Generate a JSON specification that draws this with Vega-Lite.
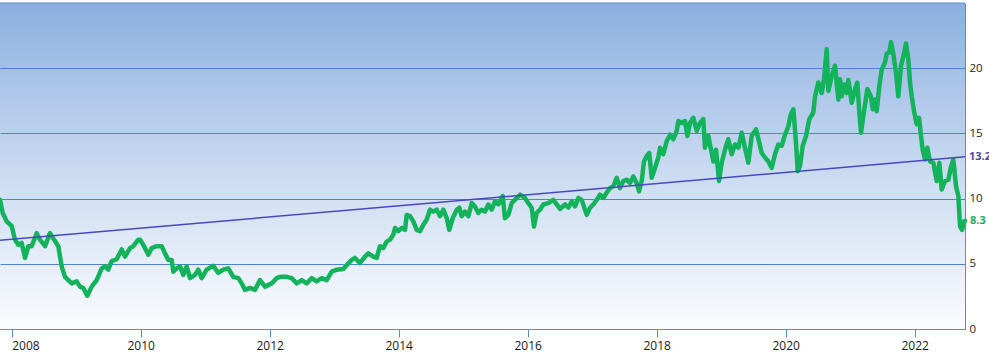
{
  "$schema": "https://vega.github.io/schema/vega-lite/v6.json",
  "width": 965,
  "height": 326,
  "autosize": {"type": "none"},
  "padding": {"left": 0, "top": 3, "right": 24, "bottom": 29},
  "background": "#ffffff",
  "config": {
    "view": {
      "fill": {"gradient": "linear", "x1": 0, "y1": 0, "x2": 0, "y2": 1,
        "stops": [{"offset": 0, "color": "#8cafe0"}, {"offset": 0.5, "color": "#c8d9f0"}, {"offset": 1, "color": "#fbfcfe"}]},
      "stroke": null
    },
    "font": "Open Sans"
  },
  "datasets": {
    "price": [
      {"year": 2007.819, "price": 9.9}, {"year": 2007.861, "price": 8.9}, {"year": 2007.923, "price": 8.25}, {"year": 2008.0, "price": 7.9},
      {"year": 2008.052, "price": 6.85}, {"year": 2008.103, "price": 6.45}, {"year": 2008.155, "price": 6.6}, {"year": 2008.207, "price": 5.45},
      {"year": 2008.258, "price": 6.35}, {"year": 2008.31, "price": 6.35}, {"year": 2008.388, "price": 7.35}, {"year": 2008.439, "price": 6.85},
      {"year": 2008.517, "price": 6.35}, {"year": 2008.594, "price": 7.35}, {"year": 2008.645, "price": 6.95}, {"year": 2008.723, "price": 6.35},
      {"year": 2008.775, "price": 4.8}, {"year": 2008.827, "price": 4.0}, {"year": 2008.878, "price": 3.75}, {"year": 2008.931, "price": 3.5},
      {"year": 2009.008, "price": 3.65}, {"year": 2009.059, "price": 3.25}, {"year": 2009.11, "price": 3.15}, {"year": 2009.172, "price": 2.55},
      {"year": 2009.241, "price": 3.25}, {"year": 2009.318, "price": 3.75}, {"year": 2009.396, "price": 4.65}, {"year": 2009.447, "price": 4.8},
      {"year": 2009.498, "price": 4.55}, {"year": 2009.551, "price": 5.2}, {"year": 2009.628, "price": 5.35}, {"year": 2009.706, "price": 6.1},
      {"year": 2009.757, "price": 5.55}, {"year": 2009.834, "price": 6.2}, {"year": 2009.886, "price": 6.35}, {"year": 2009.963, "price": 6.85},
      {"year": 2009.99, "price": 6.85}, {"year": 2010.041, "price": 6.45}, {"year": 2010.118, "price": 5.7}, {"year": 2010.171, "price": 6.2},
      {"year": 2010.248, "price": 6.35}, {"year": 2010.326, "price": 6.35}, {"year": 2010.377, "price": 5.8}, {"year": 2010.428, "price": 5.3},
      {"year": 2010.481, "price": 5.3}, {"year": 2010.506, "price": 4.4}, {"year": 2010.558, "price": 4.65}, {"year": 2010.61, "price": 4.8},
      {"year": 2010.661, "price": 4.15}, {"year": 2010.713, "price": 4.8}, {"year": 2010.765, "price": 3.9}, {"year": 2010.842, "price": 4.15},
      {"year": 2010.893, "price": 4.55}, {"year": 2010.946, "price": 3.9}, {"year": 2011.023, "price": 4.55}, {"year": 2011.126, "price": 4.85},
      {"year": 2011.203, "price": 4.3}, {"year": 2011.281, "price": 4.55}, {"year": 2011.358, "price": 4.65}, {"year": 2011.436, "price": 4.0},
      {"year": 2011.514, "price": 3.9}, {"year": 2011.566, "price": 3.5}, {"year": 2011.617, "price": 3.0}, {"year": 2011.695, "price": 3.15},
      {"year": 2011.772, "price": 3.0}, {"year": 2011.85, "price": 3.75}, {"year": 2011.927, "price": 3.25}, {"year": 2012.031, "price": 3.5},
      {"year": 2012.109, "price": 3.9}, {"year": 2012.16, "price": 4.0}, {"year": 2012.264, "price": 4.0}, {"year": 2012.342, "price": 3.9},
      {"year": 2012.419, "price": 3.5}, {"year": 2012.497, "price": 3.75}, {"year": 2012.574, "price": 3.5}, {"year": 2012.652, "price": 3.9},
      {"year": 2012.729, "price": 3.65}, {"year": 2012.807, "price": 3.9}, {"year": 2012.884, "price": 3.75}, {"year": 2012.962, "price": 4.4},
      {"year": 2013.039, "price": 4.55}, {"year": 2013.142, "price": 4.6}, {"year": 2013.194, "price": 4.9}, {"year": 2013.272, "price": 5.3},
      {"year": 2013.323, "price": 5.45}, {"year": 2013.4, "price": 5.05}, {"year": 2013.478, "price": 5.55}, {"year": 2013.529, "price": 5.8},
      {"year": 2013.607, "price": 5.55}, {"year": 2013.659, "price": 5.45}, {"year": 2013.71, "price": 6.35}, {"year": 2013.761, "price": 6.2},
      {"year": 2013.814, "price": 6.7}, {"year": 2013.865, "price": 6.85}, {"year": 2013.917, "price": 7.25}, {"year": 2013.943, "price": 7.75},
      {"year": 2013.994, "price": 7.5}, {"year": 2014.047, "price": 7.75}, {"year": 2014.098, "price": 7.6}, {"year": 2014.124, "price": 8.75},
      {"year": 2014.176, "price": 8.65}, {"year": 2014.227, "price": 8.25}, {"year": 2014.279, "price": 7.6}, {"year": 2014.331, "price": 7.5},
      {"year": 2014.382, "price": 8.0}, {"year": 2014.435, "price": 8.4}, {"year": 2014.486, "price": 9.15}, {"year": 2014.537, "price": 9.0},
      {"year": 2014.59, "price": 9.15}, {"year": 2014.641, "price": 8.65}, {"year": 2014.692, "price": 9.15}, {"year": 2014.745, "price": 8.5},
      {"year": 2014.785, "price": 7.6}, {"year": 2014.838, "price": 8.5}, {"year": 2014.9, "price": 9.15}, {"year": 2014.94, "price": 9.3},
      {"year": 2014.977, "price": 8.65}, {"year": 2015.028, "price": 9.0}, {"year": 2015.08, "price": 8.65}, {"year": 2015.132, "price": 9.65},
      {"year": 2015.183, "price": 9.4}, {"year": 2015.234, "price": 8.9}, {"year": 2015.287, "price": 9.15}, {"year": 2015.338, "price": 9.0},
      {"year": 2015.39, "price": 9.55}, {"year": 2015.442, "price": 9.15}, {"year": 2015.493, "price": 9.8}, {"year": 2015.545, "price": 9.55},
      {"year": 2015.613, "price": 10.2}, {"year": 2015.648, "price": 8.5}, {"year": 2015.7, "price": 8.75}, {"year": 2015.752, "price": 9.65},
      {"year": 2015.803, "price": 9.9}, {"year": 2015.881, "price": 10.3}, {"year": 2015.958, "price": 10.05}, {"year": 2016.01, "price": 9.65},
      {"year": 2016.062, "price": 9.3}, {"year": 2016.098, "price": 7.85}, {"year": 2016.14, "price": 8.9}, {"year": 2016.191, "price": 9.15},
      {"year": 2016.242, "price": 9.55}, {"year": 2016.32, "price": 9.65}, {"year": 2016.397, "price": 9.9}, {"year": 2016.45, "price": 9.55},
      {"year": 2016.501, "price": 9.2}, {"year": 2016.579, "price": 9.55}, {"year": 2016.63, "price": 9.3}, {"year": 2016.683, "price": 9.8},
      {"year": 2016.734, "price": 9.4}, {"year": 2016.785, "price": 10.05}, {"year": 2016.838, "price": 9.9}, {"year": 2016.915, "price": 8.75},
      {"year": 2016.967, "price": 9.3}, {"year": 2017.018, "price": 9.55}, {"year": 2017.07, "price": 9.9}, {"year": 2017.121, "price": 10.3},
      {"year": 2017.173, "price": 10.05}, {"year": 2017.225, "price": 10.45}, {"year": 2017.276, "price": 10.8}, {"year": 2017.328, "price": 10.95},
      {"year": 2017.38, "price": 11.6}, {"year": 2017.431, "price": 10.8}, {"year": 2017.482, "price": 11.35}, {"year": 2017.535, "price": 11.45},
      {"year": 2017.586, "price": 11.2}, {"year": 2017.638, "price": 11.7}, {"year": 2017.69, "price": 11.2}, {"year": 2017.726, "price": 10.55},
      {"year": 2017.768, "price": 11.35}, {"year": 2017.803, "price": 12.85}, {"year": 2017.845, "price": 13.25}, {"year": 2017.885, "price": 13.5},
      {"year": 2017.923, "price": 11.6}, {"year": 2017.974, "price": 12.35}, {"year": 2018.025, "price": 13.15}, {"year": 2018.052, "price": 13.9},
      {"year": 2018.103, "price": 13.4}, {"year": 2018.155, "price": 14.4}, {"year": 2018.207, "price": 14.9}, {"year": 2018.258, "price": 14.55},
      {"year": 2018.311, "price": 15.2}, {"year": 2018.336, "price": 15.95}, {"year": 2018.388, "price": 15.8}, {"year": 2018.439, "price": 15.95},
      {"year": 2018.475, "price": 14.8}, {"year": 2018.517, "price": 15.8}, {"year": 2018.568, "price": 16.2}, {"year": 2018.621, "price": 15.2},
      {"year": 2018.672, "price": 15.8}, {"year": 2018.723, "price": 16.1}, {"year": 2018.749, "price": 13.9}, {"year": 2018.801, "price": 14.8},
      {"year": 2018.853, "price": 13.5}, {"year": 2018.878, "price": 12.85}, {"year": 2018.92, "price": 13.75}, {"year": 2018.967, "price": 11.35},
      {"year": 2019.008, "price": 12.75}, {"year": 2019.059, "price": 13.75}, {"year": 2019.11, "price": 14.55}, {"year": 2019.163, "price": 13.4},
      {"year": 2019.214, "price": 14.15}, {"year": 2019.266, "price": 13.9}, {"year": 2019.318, "price": 15.05}, {"year": 2019.369, "price": 13.9},
      {"year": 2019.421, "price": 12.75}, {"year": 2019.473, "price": 14.8}, {"year": 2019.54, "price": 15.3}, {"year": 2019.591, "price": 14.3},
      {"year": 2019.628, "price": 13.5}, {"year": 2019.68, "price": 13.15}, {"year": 2019.731, "price": 12.85}, {"year": 2019.783, "price": 12.35},
      {"year": 2019.834, "price": 13.4}, {"year": 2019.886, "price": 14.15}, {"year": 2019.938, "price": 14.05}, {"year": 2019.99, "price": 14.9},
      {"year": 2020.041, "price": 15.55}, {"year": 2020.078, "price": 16.45}, {"year": 2020.119, "price": 16.85}, {"year": 2020.156, "price": 14.55},
      {"year": 2020.187, "price": 12.1}, {"year": 2020.222, "price": 12.5}, {"year": 2020.264, "price": 14.05}, {"year": 2020.315, "price": 14.8},
      {"year": 2020.367, "price": 16.1}, {"year": 2020.428, "price": 16.6}, {"year": 2020.455, "price": 17.85}, {"year": 2020.506, "price": 18.9},
      {"year": 2020.559, "price": 18.1}, {"year": 2020.594, "price": 19.15}, {"year": 2020.636, "price": 21.45}, {"year": 2020.661, "price": 18.25},
      {"year": 2020.713, "price": 19.4}, {"year": 2020.765, "price": 20.2}, {"year": 2020.816, "price": 17.6}, {"year": 2020.843, "price": 19.15},
      {"year": 2020.869, "price": 17.85}, {"year": 2020.905, "price": 18.75}, {"year": 2020.946, "price": 18.1}, {"year": 2020.971, "price": 19.1},
      {"year": 2021.024, "price": 17.35}, {"year": 2021.075, "price": 18.4}, {"year": 2021.111, "price": 18.9}, {"year": 2021.142, "price": 16.6},
      {"year": 2021.168, "price": 15.05}, {"year": 2021.204, "price": 16.35}, {"year": 2021.266, "price": 18.4}, {"year": 2021.319, "price": 17.85},
      {"year": 2021.35, "price": 16.85}, {"year": 2021.385, "price": 17.6}, {"year": 2021.411, "price": 16.7}, {"year": 2021.452, "price": 18.65},
      {"year": 2021.489, "price": 19.9}, {"year": 2021.54, "price": 20.45}, {"year": 2021.566, "price": 21.1}, {"year": 2021.606, "price": 21.2},
      {"year": 2021.633, "price": 22.0}, {"year": 2021.669, "price": 21.1}, {"year": 2021.71, "price": 19.65}, {"year": 2021.746, "price": 17.85},
      {"year": 2021.788, "price": 20.2}, {"year": 2021.834, "price": 21.1}, {"year": 2021.865, "price": 21.9}, {"year": 2021.901, "price": 20.7},
      {"year": 2021.928, "price": 18.9}, {"year": 2021.954, "price": 17.85}, {"year": 2021.99, "price": 16.7}, {"year": 2022.031, "price": 15.7},
      {"year": 2022.067, "price": 16.2}, {"year": 2022.093, "price": 15.05}, {"year": 2022.124, "price": 13.75}, {"year": 2022.16, "price": 13.0},
      {"year": 2022.196, "price": 13.9}, {"year": 2022.238, "price": 12.85}, {"year": 2022.289, "price": 12.75}, {"year": 2022.342, "price": 11.35},
      {"year": 2022.382, "price": 12.75}, {"year": 2022.419, "price": 10.7}, {"year": 2022.47, "price": 11.35}, {"year": 2022.522, "price": 11.45},
      {"year": 2022.559, "price": 12.35}, {"year": 2022.599, "price": 13.0}, {"year": 2022.641, "price": 10.95}, {"year": 2022.677, "price": 10.2},
      {"year": 2022.703, "price": 7.85}, {"year": 2022.734, "price": 7.6}, {"year": 2022.765, "price": 8.25}, {"year": 2022.78, "price": 8.3}
    ],
    "trend": [
      {"year": 2007.819, "price": 6.8},
      {"year": 2022.78, "price": 13.2}
    ],
    "trendLabel": [{"year": 2022.78, "price": 13.2, "label": "13.2"}],
    "lastLabel": [{"year": 2022.78, "price": 8.3, "label": "8.3"}]
  },
  "encoding": {
    "x": {
      "field": "year", "type": "quantitative",
      "scale": {"domain": [2007.819, 2022.78], "nice": false, "zero": false},
      "axis": {
        "title": null, "grid": false, "values": [2008, 2010, 2012, 2014, 2016, 2018, 2020, 2022],
        "format": "d", "domainColor": "#5b8bd6", "tickColor": "#5b8bd6", "tickSize": 8,
        "labelColor": "#1a1a1a", "labelFontSize": 12, "labelPadding": 3, "labelFlush": 15
      }
    },
    "y": {
      "field": "price", "type": "quantitative",
      "scale": {"domain": [0, 25], "nice": false},
      "axis": {
        "orient": "right", "title": null, "values": [0, 5, 10, 15, 20], "grid": true,
        "gridColor": "#4f82d6", "gridWidth": 1, "gridOpacity": 1, "ticks": false,
        "domainColor": "#5b8bd6", "labelColor": "#1a1a1a", "labelFontSize": 11.5, "labelPadding": 4
      }
    }
  },
  "layer": [
    {
      "data": {"values": [{"top": 25}]},
      "mark": {"type": "rule", "color": "#5b8bd6", "strokeWidth": 1},
      "encoding": {"x": null, "y": {"field": "top", "type": "quantitative"}}
    },
    {
      "data": {"name": "price"},
      "mark": {"type": "line", "color": "#12b35a", "strokeWidth": 4.5, "strokeJoin": "round", "strokeCap": "round"}
    },
    {
      "data": {"name": "trend"},
      "mark": {"type": "line", "color": "#4848c0", "strokeWidth": 1.5}
    },
    {
      "data": {"name": "trendLabel"},
      "mark": {"type": "text", "align": "left", "baseline": "middle", "dx": 4, "color": "#4a4a9e", "fontSize": 11, "fontWeight": "bold"},
      "encoding": {"text": {"field": "label"}}
    },
    {
      "data": {"name": "lastLabel"},
      "mark": {"type": "text", "align": "left", "baseline": "middle", "dx": 5, "color": "#1aa860", "fontSize": 11, "fontWeight": "bold"},
      "encoding": {"text": {"field": "label"}}
    }
  ]
}
